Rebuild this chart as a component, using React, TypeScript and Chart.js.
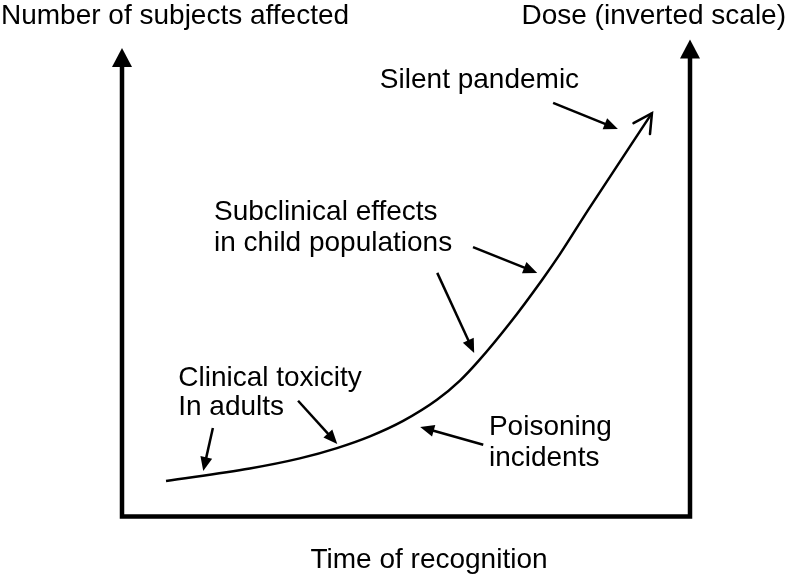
import React, { useEffect, useRef } from "react";
import { Chart, registerables } from "chart.js";

Chart.register(...registerables);

// Curve: time of recognition (x, 0-100) vs number of subjects affected (y, 0-100)
const curveTime = [7.75, 22.5, 31.3, 37.85, 43.65, 49.5, 55.45, 59.5, 62.7, 68.3, 73.95, 77.1, 82.05, 93.3];
const curveAffected = [7.6, 10.25, 12.4, 14.6, 17.1, 20.4, 24.9, 29.0, 33.1, 41.3, 50.5, 56.0, 65.4, 86.1];

// Annotation labels (left edge / baseline, in data units)
const labelTexts = [
  "Clinical toxicity",
  "In adults",
  "Poisoning",
  "incidents",
  "Subclinical effects",
  "in child populations",
  "Silent pandemic",
];
const labelTime = [9.9, 9.9, 64.6, 64.6, 16.2, 16.2, 45.4];
const labelAffected = [27.9, 21.7, 17.4, 10.8, 63.3, 56.7, 91.5];

// Pointer arrows (from -> to, in data units)
const pointerFromTime = [16.0, 31.0, 63.6, 55.5, 61.8, 75.9];
const pointerFromAffected = [18.9, 24.7, 15.3, 52.0, 57.5, 88.3];
const pointerToTime = [14.3, 37.9, 52.5, 62.0, 73.1, 87.3];
const pointerToAffected = [9.7, 15.5, 19.1, 34.9, 52.0, 82.7];

const axisTitleLeft = "Number of subjects affected";
const axisTitleRight = "Dose (inverted scale)";
const axisTitleBottom = "Time of recognition";

const FONT = '28px "Liberation Sans", Arial, sans-serif';

function filledArrow(ctx: CanvasRenderingContext2D, x1: number, y1: number, x2: number, y2: number) {
  const dx = x2 - x1;
  const dy = y2 - y1;
  const len = Math.hypot(dx, dy);
  const ux = dx / len;
  const uy = dy / len;
  const headLen = 14;
  const halfW = 6;
  ctx.beginPath();
  ctx.moveTo(x1, y1);
  ctx.lineTo(x2 - ux * headLen * 0.8, y2 - uy * headLen * 0.8);
  ctx.lineWidth = 2.5;
  ctx.stroke();
  const bx = x2 - ux * headLen;
  const by = y2 - uy * headLen;
  ctx.beginPath();
  ctx.moveTo(x2, y2);
  ctx.lineTo(bx - uy * halfW, by + ux * halfW);
  ctx.lineTo(bx + uy * halfW, by - ux * halfW);
  ctx.closePath();
  ctx.fill();
}

const diagramPlugin = {
  id: "diagram",
  afterDatasetsDraw(chart: any) {
    const { ctx, chartArea } = chart;
    const xs = chart.scales.x;
    const ys = chart.scales.y;
    const { left, right, top, bottom } = chartArea;
    ctx.save();
    ctx.strokeStyle = "#000";
    ctx.fillStyle = "#000";
    ctx.lineCap = "butt";
    ctx.lineJoin = "miter";

    // axes frame
    ctx.lineWidth = 4.5;
    ctx.beginPath();
    ctx.moveTo(left, top + 17);
    ctx.lineTo(left, bottom);
    ctx.lineTo(right, bottom);
    ctx.lineTo(right, top + 9);
    ctx.stroke();
    // axis arrowheads
    ctx.beginPath();
    ctx.moveTo(left, top);
    ctx.lineTo(left - 10, top + 19);
    ctx.lineTo(left + 10, top + 19);
    ctx.closePath();
    ctx.fill();
    ctx.beginPath();
    ctx.moveTo(right, top - 8.5);
    ctx.lineTo(right - 10, top + 10.5);
    ctx.lineTo(right + 10, top + 10.5);
    ctx.closePath();
    ctx.fill();

    // open arrowhead at end of curve
    const n = curveTime.length;
    const tx = xs.getPixelForValue(curveTime[n - 1]);
    const ty = ys.getPixelForValue(curveAffected[n - 1]);
    const px = xs.getPixelForValue(curveTime[n - 2]);
    const py = ys.getPixelForValue(curveAffected[n - 2]);
    const ang = Math.atan2(py - ty, px - tx);
    const armLen = 21;
    const spread = (28 * Math.PI) / 180;
    ctx.lineWidth = 2.5;
    ctx.lineCap = "round";
    ctx.beginPath();
    ctx.moveTo(tx + Math.cos(ang + spread) * armLen, ty + Math.sin(ang + spread) * armLen);
    ctx.lineTo(tx, ty);
    ctx.lineTo(tx + Math.cos(ang - spread) * armLen, ty + Math.sin(ang - spread) * armLen);
    ctx.stroke();
    ctx.lineCap = "butt";

    // pointer arrows
    for (let i = 0; i < pointerFromTime.length; i++) {
      filledArrow(
        ctx,
        xs.getPixelForValue(pointerFromTime[i]),
        ys.getPixelForValue(pointerFromAffected[i]),
        xs.getPixelForValue(pointerToTime[i]),
        ys.getPixelForValue(pointerToAffected[i])
      );
    }

    // labels
    ctx.font = FONT;
    ctx.textBaseline = "alphabetic";
    ctx.textAlign = "left";
    for (let i = 0; i < labelTexts.length; i++) {
      ctx.fillText(labelTexts[i], xs.getPixelForValue(labelTime[i]), ys.getPixelForValue(labelAffected[i]));
    }

    // axis titles
    const W = chart.width;
    const H = chart.height;
    ctx.textAlign = "left";
    ctx.fillText(axisTitleLeft, 1, 24);
    ctx.textAlign = "right";
    ctx.fillText(axisTitleRight, W - 2, 24);
    ctx.textAlign = "center";
    ctx.fillText(axisTitleBottom, 429, H - 10);
    ctx.restore();
  },
};

export default function App() {
  const canvasRef = useRef<HTMLCanvasElement | null>(null);

  useEffect(() => {
    document.body.style.margin = "0";
    const canvas = canvasRef.current;
    if (!canvas) return;
    const chart = new Chart(canvas, {
      type: "line",
      data: {
        datasets: [
          {
            data: curveTime.map((t, i) => ({ x: t, y: curveAffected[i] })),
            borderColor: "#000",
            borderWidth: 2.5,
            pointRadius: 0,
            fill: false,
            cubicInterpolationMode: "monotone",
            clip: false,
          } as any,
        ],
      },
      options: {
        responsive: false,
        animation: false,
        devicePixelRatio: 1,
        layout: { padding: { left: 122, right: 98, top: 48, bottom: 61.5 } },
        scales: {
          x: { type: "linear", min: 0, max: 100, display: false },
          y: { type: "linear", min: 0, max: 100, display: false },
        },
        plugins: {
          legend: { display: false },
          tooltip: { enabled: false },
        },
      },
      plugins: [diagramPlugin],
    });
    return () => chart.destroy();
  }, []);

  return (
    <div style={{ position: "fixed", left: 0, top: 0, width: 788, height: 578, background: "#fff" }}>
      <canvas ref={canvasRef} width={788} height={578} style={{ display: "block" }} />
    </div>
  );
}
